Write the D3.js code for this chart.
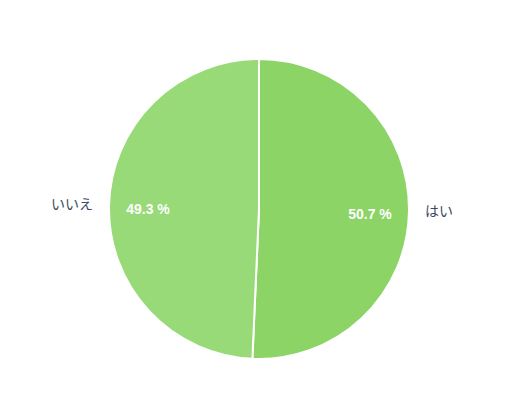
<!DOCTYPE html>
<html><head><meta charset="utf-8">
<script src="https://cdn.jsdelivr.net/npm/d3@7"></script>
<style>body{margin:0;background:#fff;}svg{display:block;}</style>
</head><body>
<svg id="c" width="531" height="413"></svg>
<script>
const categories = ["はい", "いいえ"];
const values = [50.7, 49.3];
const colors = ["#8bd465", "#98da77"];

const svg = d3.select("#c");
const cx = 259, cy = 209, R = 150;
const g = svg.append("g").attr("transform", `translate(${cx},${cy})`);
const pie = d3.pie().sort(null).value(d => d.v);
const data = pie(categories.map((c, i) => ({c, v: values[i]})));
const arc = d3.arc().innerRadius(0).outerRadius(R);
g.selectAll("path").data(data).enter().append("path")
  .attr("d", arc).attr("fill", (d, i) => colors[i])
  .attr("stroke", "#fff").attr("stroke-width", 2);

const inner = d3.arc().innerRadius(R * 0.74).outerRadius(R * 0.74);
g.selectAll("text.pct").data(data).enter().append("text")
  .attr("class", "pct")
  .attr("transform", d => { const p = inner.centroid(d); return `translate(${p[0]},${p[1] + 4})`; })
  .attr("text-anchor", "middle")
  .attr("dominant-baseline", "middle")
  .attr("font-family", "Helvetica, Arial, 'Liberation Sans', sans-serif")
  .attr("font-weight", "bold").attr("font-size", 14).attr("fill", "#fff")
  .text(d => d.data.v.toFixed(1) + " %");

const outer = d3.arc().innerRadius(R + 16).outerRadius(R + 16);
g.selectAll("text.lab").data(data).enter().append("text")
  .attr("class", "lab")
  .attr("transform", d => { const p = outer.centroid(d); return `translate(${p[0]},${p[1]})`; })
  .attr("text-anchor", d => ((d.startAngle + d.endAngle) / 2 < Math.PI ? "start" : "end"))
  .attr("dominant-baseline", "middle")
  .attr("font-family", "'Noto Sans CJK JP', sans-serif")
  .attr("font-size", 14).attr("fill", "#3b4a63")
  .text(d => d.data.c);
</script>
</body></html>
